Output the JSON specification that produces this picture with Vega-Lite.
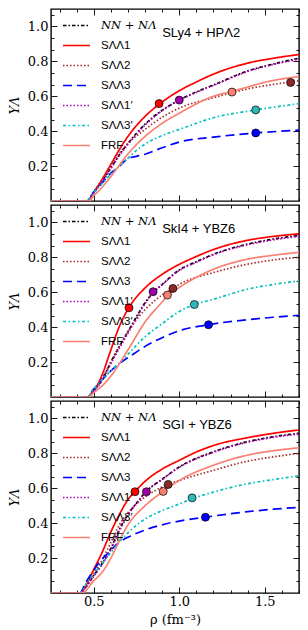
{
"$schema":"https://vega.github.io/schema/vega-lite/v6.json",
"padding":{"left":7,"top":7,"right":7,"bottom":7},
"config":{"view":{"stroke":"#000","strokeWidth":1.4},"axis":{"domain":false,"grid":false,"tickColor":"#000","tickWidth":0.9,"labelFont":"DejaVu Serif","labelFontSize":13,"labelColor":"#000","titleFont":"DejaVu Serif","titleFontSize":13,"titleFontWeight":"normal","titleColor":"#000","labelFlush":false,"labelOverlap":false}},
"datasets":{
"curves":[
{"p":1,"s":"NN + NΛ","x":0.25,"y":0},{"p":1,"s":"NN + NΛ","x":0.46,"y":0},{"p":1,"s":"NN + NΛ","x":0.5,"y":0.05},{"p":1,"s":"NN + NΛ","x":0.55,"y":0.115},{"p":1,"s":"NN + NΛ","x":0.6,"y":0.19},{"p":1,"s":"NN + NΛ","x":0.65,"y":0.265},{"p":1,"s":"NN + NΛ","x":0.7,"y":0.33},{"p":1,"s":"NN + NΛ","x":0.8,"y":0.44},{"p":1,"s":"NN + NΛ","x":0.9,"y":0.52},{"p":1,"s":"NN + NΛ","x":1.0,"y":0.578},{"p":1,"s":"NN + NΛ","x":1.1,"y":0.625},{"p":1,"s":"NN + NΛ","x":1.2,"y":0.665},{"p":1,"s":"NN + NΛ","x":1.4,"y":0.745},{"p":1,"s":"NN + NΛ","x":1.55,"y":0.785},{"p":1,"s":"NN + NΛ","x":1.7,"y":0.818},
{"p":1,"s":"SΛΛ1","x":0.25,"y":0},{"p":1,"s":"SΛΛ1","x":0.46,"y":0},{"p":1,"s":"SΛΛ1","x":0.5,"y":0.05},{"p":1,"s":"SΛΛ1","x":0.55,"y":0.125},{"p":1,"s":"SΛΛ1","x":0.6,"y":0.21},{"p":1,"s":"SΛΛ1","x":0.65,"y":0.295},{"p":1,"s":"SΛΛ1","x":0.7,"y":0.37},{"p":1,"s":"SΛΛ1","x":0.8,"y":0.485},{"p":1,"s":"SΛΛ1","x":0.9,"y":0.567},{"p":1,"s":"SΛΛ1","x":1.0,"y":0.632},{"p":1,"s":"SΛΛ1","x":1.1,"y":0.682},{"p":1,"s":"SΛΛ1","x":1.2,"y":0.727},{"p":1,"s":"SΛΛ1","x":1.4,"y":0.79},{"p":1,"s":"SΛΛ1","x":1.55,"y":0.818},{"p":1,"s":"SΛΛ1","x":1.7,"y":0.839},
{"p":1,"s":"SΛΛ2","x":0.25,"y":0},{"p":1,"s":"SΛΛ2","x":0.46,"y":0},{"p":1,"s":"SΛΛ2","x":0.5,"y":0.055},{"p":1,"s":"SΛΛ2","x":0.55,"y":0.125},{"p":1,"s":"SΛΛ2","x":0.6,"y":0.205},{"p":1,"s":"SΛΛ2","x":0.65,"y":0.275},{"p":1,"s":"SΛΛ2","x":0.7,"y":0.33},{"p":1,"s":"SΛΛ2","x":0.8,"y":0.41},{"p":1,"s":"SΛΛ2","x":0.9,"y":0.48},{"p":1,"s":"SΛΛ2","x":1.0,"y":0.532},{"p":1,"s":"SΛΛ2","x":1.2,"y":0.592},{"p":1,"s":"SΛΛ2","x":1.4,"y":0.642},{"p":1,"s":"SΛΛ2","x":1.55,"y":0.668},{"p":1,"s":"SΛΛ2","x":1.7,"y":0.688},
{"p":1,"s":"SΛΛ3","x":0.25,"y":0},{"p":1,"s":"SΛΛ3","x":0.46,"y":0},{"p":1,"s":"SΛΛ3","x":0.5,"y":0.05},{"p":1,"s":"SΛΛ3","x":0.55,"y":0.105},{"p":1,"s":"SΛΛ3","x":0.6,"y":0.16},{"p":1,"s":"SΛΛ3","x":0.65,"y":0.2},{"p":1,"s":"SΛΛ3","x":0.7,"y":0.243},{"p":1,"s":"SΛΛ3","x":0.75,"y":0.256},{"p":1,"s":"SΛΛ3","x":0.8,"y":0.268},{"p":1,"s":"SΛΛ3","x":0.9,"y":0.305},{"p":1,"s":"SΛΛ3","x":1.0,"y":0.338},{"p":1,"s":"SΛΛ3","x":1.2,"y":0.366},{"p":1,"s":"SΛΛ3","x":1.45,"y":0.39},{"p":1,"s":"SΛΛ3","x":1.7,"y":0.406},
{"p":1,"s":"SΛΛ1′","x":0.25,"y":0},{"p":1,"s":"SΛΛ1′","x":0.46,"y":0},{"p":1,"s":"SΛΛ1′","x":0.5,"y":0.048},{"p":1,"s":"SΛΛ1′","x":0.55,"y":0.11},{"p":1,"s":"SΛΛ1′","x":0.6,"y":0.185},{"p":1,"s":"SΛΛ1′","x":0.65,"y":0.26},{"p":1,"s":"SΛΛ1′","x":0.7,"y":0.325},{"p":1,"s":"SΛΛ1′","x":0.8,"y":0.435},{"p":1,"s":"SΛΛ1′","x":0.9,"y":0.518},{"p":1,"s":"SΛΛ1′","x":1.0,"y":0.578},{"p":1,"s":"SΛΛ1′","x":1.1,"y":0.622},{"p":1,"s":"SΛΛ1′","x":1.2,"y":0.662},{"p":1,"s":"SΛΛ1′","x":1.4,"y":0.742},{"p":1,"s":"SΛΛ1′","x":1.55,"y":0.782},{"p":1,"s":"SΛΛ1′","x":1.7,"y":0.812},
{"p":1,"s":"SΛΛ3′","x":0.25,"y":0},{"p":1,"s":"SΛΛ3′","x":0.46,"y":0},{"p":1,"s":"SΛΛ3′","x":0.5,"y":0.048},{"p":1,"s":"SΛΛ3′","x":0.55,"y":0.1},{"p":1,"s":"SΛΛ3′","x":0.6,"y":0.155},{"p":1,"s":"SΛΛ3′","x":0.65,"y":0.2},{"p":1,"s":"SΛΛ3′","x":0.7,"y":0.245},{"p":1,"s":"SΛΛ3′","x":0.75,"y":0.29},{"p":1,"s":"SΛΛ3′","x":0.8,"y":0.326},{"p":1,"s":"SΛΛ3′","x":0.9,"y":0.375},{"p":1,"s":"SΛΛ3′","x":1.0,"y":0.41},{"p":1,"s":"SΛΛ3′","x":1.2,"y":0.477},{"p":1,"s":"SΛΛ3′","x":1.45,"y":0.522},{"p":1,"s":"SΛΛ3′","x":1.7,"y":0.558},
{"p":1,"s":"FRF","x":0.25,"y":0},{"p":1,"s":"FRF","x":0.47,"y":0},{"p":1,"s":"FRF","x":0.5,"y":0.03},{"p":1,"s":"FRF","x":0.55,"y":0.08},{"p":1,"s":"FRF","x":0.6,"y":0.14},{"p":1,"s":"FRF","x":0.7,"y":0.27},{"p":1,"s":"FRF","x":0.8,"y":0.37},{"p":1,"s":"FRF","x":0.9,"y":0.445},{"p":1,"s":"FRF","x":1.0,"y":0.503},{"p":1,"s":"FRF","x":1.2,"y":0.6},{"p":1,"s":"FRF","x":1.3,"y":0.626},{"p":1,"s":"FRF","x":1.4,"y":0.653},{"p":1,"s":"FRF","x":1.5,"y":0.68},{"p":1,"s":"FRF","x":1.7,"y":0.713},

{"p":2,"s":"NN + NΛ","x":0.25,"y":0},{"p":2,"s":"NN + NΛ","x":0.46,"y":0},{"p":2,"s":"NN + NΛ","x":0.5,"y":0.035},{"p":2,"s":"NN + NΛ","x":0.55,"y":0.1},{"p":2,"s":"NN + NΛ","x":0.6,"y":0.2},{"p":2,"s":"NN + NΛ","x":0.65,"y":0.29},{"p":2,"s":"NN + NΛ","x":0.7,"y":0.375},{"p":2,"s":"NN + NΛ","x":0.75,"y":0.46},{"p":2,"s":"NN + NΛ","x":0.8,"y":0.54},{"p":2,"s":"NN + NΛ","x":0.85,"y":0.6},{"p":2,"s":"NN + NΛ","x":0.9,"y":0.645},{"p":2,"s":"NN + NΛ","x":1.0,"y":0.728},{"p":2,"s":"NN + NΛ","x":1.1,"y":0.775},{"p":2,"s":"NN + NΛ","x":1.2,"y":0.818},{"p":2,"s":"NN + NΛ","x":1.4,"y":0.876},{"p":2,"s":"NN + NΛ","x":1.55,"y":0.905},{"p":2,"s":"NN + NΛ","x":1.7,"y":0.925},
{"p":2,"s":"SΛΛ1","x":0.25,"y":0},{"p":2,"s":"SΛΛ1","x":0.46,"y":0},{"p":2,"s":"SΛΛ1","x":0.5,"y":0.035},{"p":2,"s":"SΛΛ1","x":0.55,"y":0.13},{"p":2,"s":"SΛΛ1","x":0.6,"y":0.27},{"p":2,"s":"SΛΛ1","x":0.65,"y":0.405},{"p":2,"s":"SΛΛ1","x":0.7,"y":0.503},{"p":2,"s":"SΛΛ1","x":0.8,"y":0.625},{"p":2,"s":"SΛΛ1","x":0.9,"y":0.703},{"p":2,"s":"SΛΛ1","x":1.0,"y":0.76},{"p":2,"s":"SΛΛ1","x":1.1,"y":0.805},{"p":2,"s":"SΛΛ1","x":1.2,"y":0.845},{"p":2,"s":"SΛΛ1","x":1.4,"y":0.898},{"p":2,"s":"SΛΛ1","x":1.55,"y":0.92},{"p":2,"s":"SΛΛ1","x":1.7,"y":0.935},
{"p":2,"s":"SΛΛ2","x":0.25,"y":0},{"p":2,"s":"SΛΛ2","x":0.46,"y":0},{"p":2,"s":"SΛΛ2","x":0.5,"y":0.04},{"p":2,"s":"SΛΛ2","x":0.55,"y":0.11},{"p":2,"s":"SΛΛ2","x":0.6,"y":0.2},{"p":2,"s":"SΛΛ2","x":0.7,"y":0.375},{"p":2,"s":"SΛΛ2","x":0.8,"y":0.5},{"p":2,"s":"SΛΛ2","x":0.9,"y":0.585},{"p":2,"s":"SΛΛ2","x":0.963,"y":0.622},{"p":2,"s":"SΛΛ2","x":1.0,"y":0.645},{"p":2,"s":"SΛΛ2","x":1.2,"y":0.713},{"p":2,"s":"SΛΛ2","x":1.4,"y":0.761},{"p":2,"s":"SΛΛ2","x":1.55,"y":0.785},{"p":2,"s":"SΛΛ2","x":1.7,"y":0.8},
{"p":2,"s":"SΛΛ3","x":0.25,"y":0},{"p":2,"s":"SΛΛ3","x":0.46,"y":0},{"p":2,"s":"SΛΛ3","x":0.5,"y":0.045},{"p":2,"s":"SΛΛ3","x":0.55,"y":0.1},{"p":2,"s":"SΛΛ3","x":0.6,"y":0.15},{"p":2,"s":"SΛΛ3","x":0.64,"y":0.185},{"p":2,"s":"SΛΛ3","x":0.7,"y":0.225},{"p":2,"s":"SΛΛ3","x":0.8,"y":0.29},{"p":2,"s":"SΛΛ3","x":0.9,"y":0.34},{"p":2,"s":"SΛΛ3","x":1.0,"y":0.38},{"p":2,"s":"SΛΛ3","x":1.17,"y":0.414},{"p":2,"s":"SΛΛ3","x":1.4,"y":0.443},{"p":2,"s":"SΛΛ3","x":1.55,"y":0.457},{"p":2,"s":"SΛΛ3","x":1.7,"y":0.468},
{"p":2,"s":"SΛΛ1′","x":0.25,"y":0},{"p":2,"s":"SΛΛ1′","x":0.46,"y":0},{"p":2,"s":"SΛΛ1′","x":0.5,"y":0.035},{"p":2,"s":"SΛΛ1′","x":0.55,"y":0.095},{"p":2,"s":"SΛΛ1′","x":0.6,"y":0.19},{"p":2,"s":"SΛΛ1′","x":0.65,"y":0.28},{"p":2,"s":"SΛΛ1′","x":0.7,"y":0.365},{"p":2,"s":"SΛΛ1′","x":0.75,"y":0.452},{"p":2,"s":"SΛΛ1′","x":0.8,"y":0.535},{"p":2,"s":"SΛΛ1′","x":0.85,"y":0.6},{"p":2,"s":"SΛΛ1′","x":0.9,"y":0.643},{"p":2,"s":"SΛΛ1′","x":1.0,"y":0.725},{"p":2,"s":"SΛΛ1′","x":1.1,"y":0.772},{"p":2,"s":"SΛΛ1′","x":1.2,"y":0.815},{"p":2,"s":"SΛΛ1′","x":1.4,"y":0.872},{"p":2,"s":"SΛΛ1′","x":1.55,"y":0.9},{"p":2,"s":"SΛΛ1′","x":1.7,"y":0.92},
{"p":2,"s":"SΛΛ3′","x":0.25,"y":0},{"p":2,"s":"SΛΛ3′","x":0.46,"y":0},{"p":2,"s":"SΛΛ3′","x":0.5,"y":0.045},{"p":2,"s":"SΛΛ3′","x":0.55,"y":0.1},{"p":2,"s":"SΛΛ3′","x":0.6,"y":0.15},{"p":2,"s":"SΛΛ3′","x":0.65,"y":0.195},{"p":2,"s":"SΛΛ3′","x":0.7,"y":0.245},{"p":2,"s":"SΛΛ3′","x":0.8,"y":0.345},{"p":2,"s":"SΛΛ3′","x":0.9,"y":0.42},{"p":2,"s":"SΛΛ3′","x":1.0,"y":0.49},{"p":2,"s":"SΛΛ3′","x":1.09,"y":0.53},{"p":2,"s":"SΛΛ3′","x":1.2,"y":0.56},{"p":2,"s":"SΛΛ3′","x":1.4,"y":0.618},{"p":2,"s":"SΛΛ3′","x":1.55,"y":0.645},{"p":2,"s":"SΛΛ3′","x":1.7,"y":0.665},
{"p":2,"s":"FRF","x":0.25,"y":0},{"p":2,"s":"FRF","x":0.47,"y":0},{"p":2,"s":"FRF","x":0.5,"y":0.025},{"p":2,"s":"FRF","x":0.55,"y":0.065},{"p":2,"s":"FRF","x":0.6,"y":0.12},{"p":2,"s":"FRF","x":0.7,"y":0.27},{"p":2,"s":"FRF","x":0.8,"y":0.43},{"p":2,"s":"FRF","x":0.9,"y":0.545},{"p":2,"s":"FRF","x":0.93,"y":0.58},{"p":2,"s":"FRF","x":1.0,"y":0.628},{"p":2,"s":"FRF","x":1.2,"y":0.732},{"p":2,"s":"FRF","x":1.4,"y":0.79},{"p":2,"s":"FRF","x":1.55,"y":0.812},{"p":2,"s":"FRF","x":1.7,"y":0.829},

{"p":3,"s":"NN + NΛ","x":0.25,"y":0},{"p":3,"s":"NN + NΛ","x":0.42,"y":0},{"p":3,"s":"NN + NΛ","x":0.45,"y":0.03},{"p":3,"s":"NN + NΛ","x":0.5,"y":0.1},{"p":3,"s":"NN + NΛ","x":0.55,"y":0.17},{"p":3,"s":"NN + NΛ","x":0.6,"y":0.255},{"p":3,"s":"NN + NΛ","x":0.65,"y":0.365},{"p":3,"s":"NN + NΛ","x":0.7,"y":0.45},{"p":3,"s":"NN + NΛ","x":0.75,"y":0.515},{"p":3,"s":"NN + NΛ","x":0.8,"y":0.575},{"p":3,"s":"NN + NΛ","x":0.9,"y":0.652},{"p":3,"s":"NN + NΛ","x":1.0,"y":0.722},{"p":3,"s":"NN + NΛ","x":1.2,"y":0.809},{"p":3,"s":"NN + NΛ","x":1.4,"y":0.867},{"p":3,"s":"NN + NΛ","x":1.55,"y":0.895},{"p":3,"s":"NN + NΛ","x":1.7,"y":0.915},
{"p":3,"s":"SΛΛ1","x":0.25,"y":0},{"p":3,"s":"SΛΛ1","x":0.42,"y":0},{"p":3,"s":"SΛΛ1","x":0.45,"y":0.035},{"p":3,"s":"SΛΛ1","x":0.5,"y":0.135},{"p":3,"s":"SΛΛ1","x":0.55,"y":0.235},{"p":3,"s":"SΛΛ1","x":0.6,"y":0.35},{"p":3,"s":"SΛΛ1","x":0.65,"y":0.45},{"p":3,"s":"SΛΛ1","x":0.7,"y":0.535},{"p":3,"s":"SΛΛ1","x":0.74,"y":0.58},{"p":3,"s":"SΛΛ1","x":0.8,"y":0.64},{"p":3,"s":"SΛΛ1","x":0.9,"y":0.71},{"p":3,"s":"SΛΛ1","x":1.0,"y":0.76},{"p":3,"s":"SΛΛ1","x":1.1,"y":0.808},{"p":3,"s":"SΛΛ1","x":1.2,"y":0.845},{"p":3,"s":"SΛΛ1","x":1.4,"y":0.89},{"p":3,"s":"SΛΛ1","x":1.55,"y":0.915},{"p":3,"s":"SΛΛ1","x":1.7,"y":0.934},
{"p":3,"s":"SΛΛ2","x":0.25,"y":0},{"p":3,"s":"SΛΛ2","x":0.42,"y":0},{"p":3,"s":"SΛΛ2","x":0.45,"y":0.035},{"p":3,"s":"SΛΛ2","x":0.5,"y":0.11},{"p":3,"s":"SΛΛ2","x":0.55,"y":0.19},{"p":3,"s":"SΛΛ2","x":0.6,"y":0.29},{"p":3,"s":"SΛΛ2","x":0.65,"y":0.39},{"p":3,"s":"SΛΛ2","x":0.7,"y":0.46},{"p":3,"s":"SΛΛ2","x":0.8,"y":0.55},{"p":3,"s":"SΛΛ2","x":0.935,"y":0.622},{"p":3,"s":"SΛΛ2","x":1.0,"y":0.645},{"p":3,"s":"SΛΛ2","x":1.2,"y":0.703},{"p":3,"s":"SΛΛ2","x":1.4,"y":0.755},{"p":3,"s":"SΛΛ2","x":1.55,"y":0.78},{"p":3,"s":"SΛΛ2","x":1.7,"y":0.8},
{"p":3,"s":"SΛΛ3","x":0.25,"y":0},{"p":3,"s":"SΛΛ3","x":0.42,"y":0},{"p":3,"s":"SΛΛ3","x":0.45,"y":0.055},{"p":3,"s":"SΛΛ3","x":0.5,"y":0.13},{"p":3,"s":"SΛΛ3","x":0.53,"y":0.173},{"p":3,"s":"SΛΛ3","x":0.59,"y":0.235},{"p":3,"s":"SΛΛ3","x":0.647,"y":0.289},{"p":3,"s":"SΛΛ3","x":0.716,"y":0.327},{"p":3,"s":"SΛΛ3","x":0.814,"y":0.366},{"p":3,"s":"SΛΛ3","x":0.93,"y":0.398},{"p":3,"s":"SΛΛ3","x":1.0,"y":0.412},{"p":3,"s":"SΛΛ3","x":1.15,"y":0.434},{"p":3,"s":"SΛΛ3","x":1.4,"y":0.466},{"p":3,"s":"SΛΛ3","x":1.55,"y":0.48},{"p":3,"s":"SΛΛ3","x":1.7,"y":0.491},
{"p":3,"s":"SΛΛ1′","x":0.25,"y":0},{"p":3,"s":"SΛΛ1′","x":0.42,"y":0},{"p":3,"s":"SΛΛ1′","x":0.45,"y":0.03},{"p":3,"s":"SΛΛ1′","x":0.5,"y":0.095},{"p":3,"s":"SΛΛ1′","x":0.55,"y":0.165},{"p":3,"s":"SΛΛ1′","x":0.6,"y":0.25},{"p":3,"s":"SΛΛ1′","x":0.65,"y":0.355},{"p":3,"s":"SΛΛ1′","x":0.7,"y":0.445},{"p":3,"s":"SΛΛ1′","x":0.75,"y":0.512},{"p":3,"s":"SΛΛ1′","x":0.8,"y":0.575},{"p":3,"s":"SΛΛ1′","x":0.9,"y":0.65},{"p":3,"s":"SΛΛ1′","x":1.0,"y":0.72},{"p":3,"s":"SΛΛ1′","x":1.2,"y":0.806},{"p":3,"s":"SΛΛ1′","x":1.4,"y":0.864},{"p":3,"s":"SΛΛ1′","x":1.55,"y":0.892},{"p":3,"s":"SΛΛ1′","x":1.7,"y":0.91},
{"p":3,"s":"SΛΛ3′","x":0.25,"y":0},{"p":3,"s":"SΛΛ3′","x":0.42,"y":0},{"p":3,"s":"SΛΛ3′","x":0.45,"y":0.045},{"p":3,"s":"SΛΛ3′","x":0.5,"y":0.11},{"p":3,"s":"SΛΛ3′","x":0.55,"y":0.17},{"p":3,"s":"SΛΛ3′","x":0.59,"y":0.22},{"p":3,"s":"SΛΛ3′","x":0.647,"y":0.289},{"p":3,"s":"SΛΛ3′","x":0.7,"y":0.345},{"p":3,"s":"SΛΛ3′","x":0.8,"y":0.424},{"p":3,"s":"SΛΛ3′","x":0.9,"y":0.472},{"p":3,"s":"SΛΛ3′","x":1.0,"y":0.51},{"p":3,"s":"SΛΛ3′","x":1.075,"y":0.54},{"p":3,"s":"SΛΛ3′","x":1.2,"y":0.578},{"p":3,"s":"SΛΛ3′","x":1.4,"y":0.626},{"p":3,"s":"SΛΛ3′","x":1.55,"y":0.65},{"p":3,"s":"SΛΛ3′","x":1.7,"y":0.671},
{"p":3,"s":"FRF","x":0.25,"y":0},{"p":3,"s":"FRF","x":0.43,"y":0},{"p":3,"s":"FRF","x":0.5,"y":0.07},{"p":3,"s":"FRF","x":0.55,"y":0.12},{"p":3,"s":"FRF","x":0.6,"y":0.2},{"p":3,"s":"FRF","x":0.65,"y":0.3},{"p":3,"s":"FRF","x":0.7,"y":0.39},{"p":3,"s":"FRF","x":0.8,"y":0.5},{"p":3,"s":"FRF","x":0.906,"y":0.582},{"p":3,"s":"FRF","x":1.0,"y":0.645},{"p":3,"s":"FRF","x":1.2,"y":0.732},{"p":3,"s":"FRF","x":1.4,"y":0.79},{"p":3,"s":"FRF","x":1.55,"y":0.815},{"p":3,"s":"FRF","x":1.7,"y":0.832}
],
"pts":[
{"p":1,"s":"SΛΛ1","x":0.882,"y":0.558},{"p":1,"s":"SΛΛ1′","x":1.0,"y":0.578},{"p":1,"s":"FRF","x":1.308,"y":0.624},{"p":1,"s":"SΛΛ2","x":1.651,"y":0.679},{"p":1,"s":"SΛΛ3′","x":1.447,"y":0.522},{"p":1,"s":"SΛΛ3","x":1.447,"y":0.39},
{"p":2,"s":"SΛΛ1","x":0.706,"y":0.511},{"p":2,"s":"SΛΛ1′","x":0.847,"y":0.603},{"p":2,"s":"FRF","x":0.931,"y":0.584},{"p":2,"s":"SΛΛ2","x":0.963,"y":0.622},{"p":2,"s":"SΛΛ3′","x":1.088,"y":0.53},{"p":2,"s":"SΛΛ3","x":1.171,"y":0.414},
{"p":3,"s":"SΛΛ1","x":0.741,"y":0.58},{"p":3,"s":"SΛΛ1′","x":0.808,"y":0.58},{"p":3,"s":"FRF","x":0.906,"y":0.582},{"p":3,"s":"SΛΛ2","x":0.935,"y":0.622},{"p":3,"s":"SΛΛ3′","x":1.075,"y":0.545},{"p":3,"s":"SΛΛ3","x":1.153,"y":0.434}
]
},
"spacing":0,
"resolve":{"scale":{"color":"independent","strokeDash":"independent","fill":"independent"},"legend":{"color":"independent","strokeDash":"independent"}},
"vconcat":[
{"width":248,"height":192,
"layer":[
{"data":{"name":"curves"},"transform":[{"filter":"datum.p == 1"}],
"mark":{"type":"line","strokeWidth":1.7,"interpolate":"monotone","clip":true},
"encoding":{
"x":{"field":"x","type":"quantitative","scale":{"domain":[0.25,1.7],"nice":false,"zero":false},"axis":{"orient":"bottom","values":[0.3,0.4,0.5,0.6,0.7,0.8,0.9,1.0,1.1,1.2,1.3,1.4,1.5,1.6,1.7],"tickSize":{"condition":{"test":"abs(datum.value*2-round(datum.value*2))<0.001","value":-6},"value":-3},"labels":false,"title":null}},
"y":{"field":"y","type":"quantitative","scale":{"domain":[0,1.1],"nice":false},"axis":{"orient":"left","values":[0.0666667,0.1333333,0.2,0.2666667,0.3333333,0.4,0.4666667,0.5333333,0.6,0.6666667,0.7333333,0.8,0.8666667,0.9333333,1.0,1.0666667],"tickSize":{"condition":{"test":"abs(datum.value*5-round(datum.value*5))<0.001","value":-6},"value":-3},"labelExpr":"abs(datum.value*5-round(datum.value*5))<0.001 ? format(datum.value,'.1f') : ''","labelPadding":9,"title":"YΛ","titleFontStyle":"italic","titlePadding":6}},
"color":{"field":"s","type":"nominal","scale":{"domain":["NN + NΛ","SΛΛ1","SΛΛ2","SΛΛ3","SΛΛ1′","SΛΛ3′","FRF"],"range":["#000000","#ff0000","#a52a2a","#0000ff","#bf00bf","#00bfbf","#fa8072"]},"legend":{"title":null,"orient":"none","legendX":11,"legendY":2,"symbolType":"stroke","symbolSize":729,"symbolStrokeWidth":1.6,"labelFont":"Liberation Sans","labelFontSize":11.5,"labelColor":"#000","rowPadding":-12,"labelOffset":10,"padding":0,"encode":{"labels":{"update":{"font":[{"test":"datum.value === 'NN + NΛ'","value":"DejaVu Serif"},{"value":"Liberation Sans"}],"fontStyle":[{"test":"datum.value === 'NN + NΛ'","value":"italic"},{"value":"normal"}]}}}}},
"strokeDash":{"field":"s","type":"nominal","scale":{"domain":["NN + NΛ","SΛΛ1","SΛΛ2","SΛΛ3","SΛΛ1′","SΛΛ3′","FRF"],"range":[[3.5,2,1.5,2],[1,0],[1.5,2],[9,5],[1.5,2],[3,2.5,1.5,2.5],[1,0]]}}
}},
{"data":{"name":"pts"},"transform":[{"filter":"datum.p == 1"}],
"mark":{"type":"circle","size":64,"stroke":"#000","strokeWidth":0.7,"opacity":1},
"encoding":{
"x":{"field":"x","type":"quantitative","axis":{"orient":"top","values":[0.3,0.4,0.5,0.6,0.7,0.8,0.9,1.0,1.1,1.2,1.3,1.4,1.5,1.6,1.7],"tickSize":{"condition":{"test":"abs(datum.value*2-round(datum.value*2))<0.001","value":-6},"value":-3},"labels":false,"title":null}},
"y":{"field":"y","type":"quantitative","axis":{"orient":"right","values":[0.0666667,0.1333333,0.2,0.2666667,0.3333333,0.4,0.4666667,0.5333333,0.6,0.6666667,0.7333333,0.8,0.8666667,0.9333333,1.0,1.0666667],"tickSize":{"condition":{"test":"abs(datum.value*5-round(datum.value*5))<0.001","value":-6},"value":-3},"labels":false,"title":null}},
"fill":{"field":"s","type":"nominal","scale":{"domain":["NN + NΛ","SΛΛ1","SΛΛ2","SΛΛ3","SΛΛ1′","SΛΛ3′","FRF"],"range":["#000000","#ff0000","#8b2a2a","#0000ff","#a000a8","#30b8b8","#fa8072"]},"legend":null}
}},
{"data":{"values":[{}]},
"mark":{"type":"text","font":"Liberation Sans","fontSize":13,"align":"left","baseline":"middle","color":"#000"},
"encoding":{"x":{"datum":0.9,"type":"quantitative","axis":null},"y":{"datum":0.963,"type":"quantitative","axis":null},"text":{"value":"SLy4 + HPΛ2"}}}
],
"resolve":{"axis":{"x":"independent","y":"independent"}}
},
{"width":248,"height":192,
"layer":[
{"data":{"name":"curves"},"transform":[{"filter":"datum.p == 2"}],
"mark":{"type":"line","strokeWidth":1.7,"interpolate":"monotone","clip":true},
"encoding":{
"x":{"field":"x","type":"quantitative","scale":{"domain":[0.25,1.7],"nice":false,"zero":false},"axis":{"orient":"bottom","values":[0.3,0.4,0.5,0.6,0.7,0.8,0.9,1.0,1.1,1.2,1.3,1.4,1.5,1.6,1.7],"tickSize":{"condition":{"test":"abs(datum.value*2-round(datum.value*2))<0.001","value":-6},"value":-3},"labels":false,"title":null}},
"y":{"field":"y","type":"quantitative","scale":{"domain":[0,1.1],"nice":false},"axis":{"orient":"left","values":[0.0666667,0.1333333,0.2,0.2666667,0.3333333,0.4,0.4666667,0.5333333,0.6,0.6666667,0.7333333,0.8,0.8666667,0.9333333,1.0,1.0666667],"tickSize":{"condition":{"test":"abs(datum.value*5-round(datum.value*5))<0.001","value":-6},"value":-3},"labelExpr":"abs(datum.value*5-round(datum.value*5))<0.001 ? format(datum.value,'.1f') : ''","labelPadding":9,"title":"YΛ","titleFontStyle":"italic","titlePadding":6}},
"color":{"field":"s","type":"nominal","scale":{"domain":["NN + NΛ","SΛΛ1","SΛΛ2","SΛΛ3","SΛΛ1′","SΛΛ3′","FRF"],"range":["#000000","#ff0000","#a52a2a","#0000ff","#bf00bf","#00bfbf","#fa8072"]},"legend":{"title":null,"orient":"none","legendX":11,"legendY":2,"symbolType":"stroke","symbolSize":729,"symbolStrokeWidth":1.6,"labelFont":"Liberation Sans","labelFontSize":11.5,"labelColor":"#000","rowPadding":-12,"labelOffset":10,"padding":0,"encode":{"labels":{"update":{"font":[{"test":"datum.value === 'NN + NΛ'","value":"DejaVu Serif"},{"value":"Liberation Sans"}],"fontStyle":[{"test":"datum.value === 'NN + NΛ'","value":"italic"},{"value":"normal"}]}}}}},
"strokeDash":{"field":"s","type":"nominal","scale":{"domain":["NN + NΛ","SΛΛ1","SΛΛ2","SΛΛ3","SΛΛ1′","SΛΛ3′","FRF"],"range":[[3.5,2,1.5,2],[1,0],[1.5,2],[9,5],[1.5,2],[3,2.5,1.5,2.5],[1,0]]}}
}},
{"data":{"name":"pts"},"transform":[{"filter":"datum.p == 2"}],
"mark":{"type":"circle","size":64,"stroke":"#000","strokeWidth":0.7,"opacity":1},
"encoding":{
"x":{"field":"x","type":"quantitative","axis":{"orient":"top","values":[0.3,0.4,0.5,0.6,0.7,0.8,0.9,1.0,1.1,1.2,1.3,1.4,1.5,1.6,1.7],"tickSize":{"condition":{"test":"abs(datum.value*2-round(datum.value*2))<0.001","value":-6},"value":-3},"labels":false,"title":null}},
"y":{"field":"y","type":"quantitative","axis":{"orient":"right","values":[0.0666667,0.1333333,0.2,0.2666667,0.3333333,0.4,0.4666667,0.5333333,0.6,0.6666667,0.7333333,0.8,0.8666667,0.9333333,1.0,1.0666667],"tickSize":{"condition":{"test":"abs(datum.value*5-round(datum.value*5))<0.001","value":-6},"value":-3},"labels":false,"title":null}},
"fill":{"field":"s","type":"nominal","scale":{"domain":["NN + NΛ","SΛΛ1","SΛΛ2","SΛΛ3","SΛΛ1′","SΛΛ3′","FRF"],"range":["#000000","#ff0000","#8b2a2a","#0000ff","#a000a8","#30b8b8","#fa8072"]},"legend":null}
}},
{"data":{"values":[{}]},
"mark":{"type":"text","font":"Liberation Sans","fontSize":13,"align":"left","baseline":"middle","color":"#000"},
"encoding":{"x":{"datum":0.9,"type":"quantitative","axis":null},"y":{"datum":0.963,"type":"quantitative","axis":null},"text":{"value":"SkI4 + YBZ6"}}}
],
"resolve":{"axis":{"x":"independent","y":"independent"}}
},
{"width":248,"height":192,
"layer":[
{"data":{"name":"curves"},"transform":[{"filter":"datum.p == 3"}],
"mark":{"type":"line","strokeWidth":1.7,"interpolate":"monotone","clip":true},
"encoding":{
"x":{"field":"x","type":"quantitative","scale":{"domain":[0.25,1.7],"nice":false,"zero":false},"axis":{"orient":"bottom","values":[0.3,0.4,0.5,0.6,0.7,0.8,0.9,1.0,1.1,1.2,1.3,1.4,1.5,1.6,1.7],"tickSize":{"condition":{"test":"abs(datum.value*2-round(datum.value*2))<0.001","value":-6},"value":-3},"labelExpr":"abs(datum.value*2-round(datum.value*2))<0.001 ? format(datum.value,'.1f') : ''","labelPadding":8,"title":"ρ (fm⁻³)","titlePadding":2}},
"y":{"field":"y","type":"quantitative","scale":{"domain":[0,1.1],"nice":false},"axis":{"orient":"left","values":[0.0666667,0.1333333,0.2,0.2666667,0.3333333,0.4,0.4666667,0.5333333,0.6,0.6666667,0.7333333,0.8,0.8666667,0.9333333,1.0,1.0666667],"tickSize":{"condition":{"test":"abs(datum.value*5-round(datum.value*5))<0.001","value":-6},"value":-3},"labelExpr":"abs(datum.value*5-round(datum.value*5))<0.001 ? format(datum.value,'.1f') : ''","labelPadding":9,"title":"YΛ","titleFontStyle":"italic","titlePadding":6}},
"color":{"field":"s","type":"nominal","scale":{"domain":["NN + NΛ","SΛΛ1","SΛΛ2","SΛΛ3","SΛΛ1′","SΛΛ3′","FRF"],"range":["#000000","#ff0000","#a52a2a","#0000ff","#bf00bf","#00bfbf","#fa8072"]},"legend":{"title":null,"orient":"none","legendX":11,"legendY":2,"symbolType":"stroke","symbolSize":729,"symbolStrokeWidth":1.6,"labelFont":"Liberation Sans","labelFontSize":11.5,"labelColor":"#000","rowPadding":-12,"labelOffset":10,"padding":0,"encode":{"labels":{"update":{"font":[{"test":"datum.value === 'NN + NΛ'","value":"DejaVu Serif"},{"value":"Liberation Sans"}],"fontStyle":[{"test":"datum.value === 'NN + NΛ'","value":"italic"},{"value":"normal"}]}}}}},
"strokeDash":{"field":"s","type":"nominal","scale":{"domain":["NN + NΛ","SΛΛ1","SΛΛ2","SΛΛ3","SΛΛ1′","SΛΛ3′","FRF"],"range":[[3.5,2,1.5,2],[1,0],[1.5,2],[9,5],[1.5,2],[3,2.5,1.5,2.5],[1,0]]}}
}},
{"data":{"name":"pts"},"transform":[{"filter":"datum.p == 3"}],
"mark":{"type":"circle","size":64,"stroke":"#000","strokeWidth":0.7,"opacity":1},
"encoding":{
"x":{"field":"x","type":"quantitative","axis":{"orient":"top","values":[0.3,0.4,0.5,0.6,0.7,0.8,0.9,1.0,1.1,1.2,1.3,1.4,1.5,1.6,1.7],"tickSize":{"condition":{"test":"abs(datum.value*2-round(datum.value*2))<0.001","value":-6},"value":-3},"labels":false,"title":null}},
"y":{"field":"y","type":"quantitative","axis":{"orient":"right","values":[0.0666667,0.1333333,0.2,0.2666667,0.3333333,0.4,0.4666667,0.5333333,0.6,0.6666667,0.7333333,0.8,0.8666667,0.9333333,1.0,1.0666667],"tickSize":{"condition":{"test":"abs(datum.value*5-round(datum.value*5))<0.001","value":-6},"value":-3},"labels":false,"title":null}},
"fill":{"field":"s","type":"nominal","scale":{"domain":["NN + NΛ","SΛΛ1","SΛΛ2","SΛΛ3","SΛΛ1′","SΛΛ3′","FRF"],"range":["#000000","#ff0000","#8b2a2a","#0000ff","#a000a8","#30b8b8","#fa8072"]},"legend":null}
}},
{"data":{"values":[{}]},
"mark":{"type":"text","font":"Liberation Sans","fontSize":13,"align":"left","baseline":"middle","color":"#000"},
"encoding":{"x":{"datum":0.9,"type":"quantitative","axis":null},"y":{"datum":0.963,"type":"quantitative","axis":null},"text":{"value":"SGI + YBZ6"}}}
],
"resolve":{"axis":{"x":"independent","y":"independent"}}
}
]
}
